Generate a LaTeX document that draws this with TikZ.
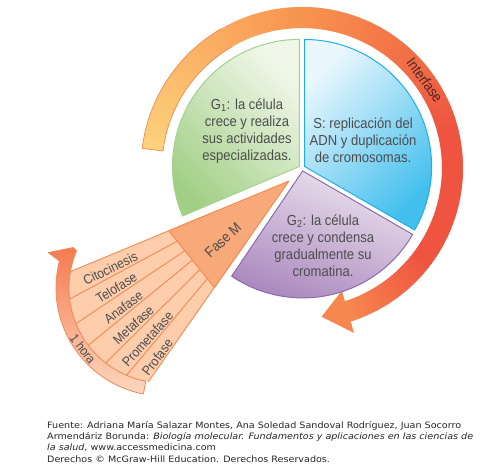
\documentclass[tikz,border=0pt]{standalone}
\usepackage{fontspec}
\setmainfont{Liberation Sans}
\newfontfamily\lblfont{Liberation Sans}[FakeStretch=0.9]
\newfontfamily\footfont{DejaVu Sans}[FakeStretch=1.09]
\definecolor{iYel}{HTML}{FDD27C}
\definecolor{iOra}{HTML}{F7924F}
\definecolor{iRed}{HTML}{EE5440}
\definecolor{iEnd}{HTML}{F6874F}
\definecolor{iLine}{HTML}{F28A50}
\definecolor{gLight}{HTML}{F0F7E9}
\definecolor{gDark}{HTML}{A2CF86}
\definecolor{gLine}{HTML}{A6D08B}
\definecolor{sLight}{HTML}{EAF7FD}
\definecolor{sDark}{HTML}{43BFEE}
\definecolor{sLine}{HTML}{1FAEE5}
\definecolor{pLight}{HTML}{EDE4EF}
\definecolor{pDark}{HTML}{AC8ABF}
\definecolor{pLine}{HTML}{8A6CAD}
\definecolor{mFill}{HTML}{F8A979}
\definecolor{mLine}{HTML}{F38A52}
\definecolor{bFill}{HTML}{FDCDAC}
\definecolor{hTop}{HTML}{F37B50}
\definecolor{hBot}{HTML}{FDD8BF}
\definecolor{hLine}{HTML}{F4875A}
\definecolor{txt}{HTML}{4D4D4D}
\definecolor{itxt}{HTML}{4A2A22}
\tikzset{
  sectortext/.style={font=\lblfont\fontsize{14.5}{17}\selectfont, text=txt, align=center, inner sep=0pt},
  bandtext/.style={font=\lblfont\fontsize{13.5}{15}\selectfont, text=txt, inner sep=0pt},
  bandline/.style={draw=mLine, line width=0.9pt},
}
\begin{document}
\begin{tikzpicture}[x=1pt,y=1pt]
\useasboundingbox (-302,-302) rectangle (185,168);
\coordinate (O) at (0,0);
\coordinate (A) at (-13,-13);
\coordinate (C) at (-138,-120);

% Interfase arrow (gradient)
\foreach \a in {173,172,...,90} {
  \pgfmathtruncatemacro\p{(173-\a)/83*100}
  \fill[iOra!\p!iYel] (\a:140) arc[start angle=\a,end angle=\a-1.5,radius=140pt] -- (\a-1.5:161) arc[start angle=\a-1.5,end angle=\a,radius=161pt] -- cycle;
}
\foreach \a in {89,88,...,15} {
  \pgfmathtruncatemacro\p{(89-\a)/74*100}
  \fill[iRed!\p!iOra] (\a:140) arc[start angle=\a,end angle=\a-1.5,radius=140pt] -- (\a-1.5:161) arc[start angle=\a-1.5,end angle=\a,radius=161pt] -- cycle;
}
\foreach \a in {14,13,...,-35} {
  \fill[iRed] (\a:140) arc[start angle=\a,end angle=\a-1.5,radius=140pt] -- (\a-1.5:161) arc[start angle=\a-1.5,end angle=\a,radius=161pt] -- cycle;
}
\foreach \a in {-36,-37,...,-71} {
  \pgfmathtruncatemacro\p{(-36-\a)/35*100}
  \fill[iEnd!\p!iRed] (\a:140) arc[start angle=\a,end angle=\a-1.5,radius=140pt] -- (\a-1.5:161) arc[start angle=\a-1.5,end angle=\a,radius=161pt] -- cycle;
}
\fill[iEnd] (-72:129) -- (-82.5:150) -- (-72.5:173) -- cycle;
\draw[iLine, line width=0.7pt] (120:161) arc[start angle=120,end angle=173,radius=161pt] -- (173:140) arc[start angle=173,end angle=120,radius=140pt];
\node[font=\lblfont\fontsize{14.5}{17}\selectfont, text=itxt, rotate=-54.4, inner sep=0pt] (interfase) at (35.6:151) {Interfase};

% G1
\begin{scope}[shift={(147:3)}]
\shadedraw[top color=gLight, bottom color=gDark, shading angle=-45, draw=gLine, line width=1pt] (0,0) -- (203:127) arc[start angle=203,end angle=90,radius=127pt] -- cycle;
\end{scope}
% S
\begin{scope}[shift={(30:3)}]
\shadedraw[top color=sLight, bottom color=sDark, shading angle=45, draw=sLine, line width=1pt] (0,0) -- (90:127) arc[start angle=90,end angle=-30,radius=127pt] -- cycle;
\end{scope}
% G2
\begin{scope}[shift={(-77:3)}]
\shadedraw[top color=pLight, bottom color=pDark, shading angle=-20, draw=pLine, line width=1pt] (0,0) -- (-30:127) arc[start angle=-30,end angle=-124,radius=127pt] -- cycle;
\end{scope}

% bands
\begin{scope}
\clip (C) circle[radius=95pt];
\begin{scope}[shift={(A)}]
\fill[bFill] (0,0) -- (202.5:300) -- (235:300) -- cycle;
\foreach \t in {202.5,208.3,213.8,219.3,224.8,230.1,235} \draw[bandline] (0,0) -- (\t:300);
\end{scope}
\end{scope}

% Fase M
\begin{scope}[shift={(A)}]
\filldraw[fill=mFill, draw=mLine, line width=1pt, line join=round] (0,0) -- (202.5:130) -- (235:130) -- cycle;
\end{scope}

% 1 hora arrow
\begin{scope}[shift={(C)}]
\shadedraw[top color=hTop, bottom color=hBot, draw=hLine, line width=0.8pt, line join=round] (259:95) arc[start angle=259,end angle=157,radius=95pt] -- (156:99.5) -- (163:121) -- (165.5:108) arc[start angle=165.5,end angle=259,radius=108pt] -- cycle;
\node[font=\lblfont\fontsize{13}{15}\selectfont, text=txt, rotate=-53, inner sep=0pt] (hora) at (217:101.5) {1 hora};
\end{scope}

% texts
\node[sectortext] (g1) at (-55,37) {G\textsubscript{1}: la célula\\crece y realiza\\sus actividades\\especializadas.};
\node[sectortext] (s) at (61,28) {S: replicación del\\ADN y duplicación\\de cromosomas.};
\node[sectortext] (g2) at (21,-78) {G\textsubscript{2}: la célula\\crece y condensa\\gradualmente su\\cromatina.};
\node[font=\lblfont\fontsize{14.5}{17}\selectfont, text=txt, inner sep=0pt, rotate=43] (fasem) at (-79,-72) {Fase M};
\begin{scope}[shift={(A)}]
\node[bandtext, rotate=26.1] (cito) at (206.1:199) {Citocinesis};
\node[bandtext, rotate=31.75] (telo) at (211.75:203) {Telofase};
\node[bandtext, rotate=37.25] (ana) at (217.25:208) {Anafase};
\node[bandtext, rotate=42.75] (meta) at (222.75:212) {Metafase};
\node[bandtext, rotate=48.15] (prometa) at (228.15:212) {Prometafase};
\node[bandtext, rotate=53.25] (pro) at (233.25:220) {Profase};
\end{scope}

% footer
\node[anchor=north west, align=left, inner sep=0pt, font=\footfont\fontsize{8.8}{11.3}\selectfont, text=black!85] (src) at (-255,-253) {Fuente: Adriana María Salazar Montes, Ana Soledad Sandoval Rodríguez, Juan Socorro\\Armendáriz Borunda: \textit{Biología molecular. Fundamentos y aplicaciones en las ciencias de}\\\textit{la salud,} www.accessmedicina.com\\Derechos © McGraw-Hill Education. Derechos Reservados.};
\end{tikzpicture}
\end{document}
